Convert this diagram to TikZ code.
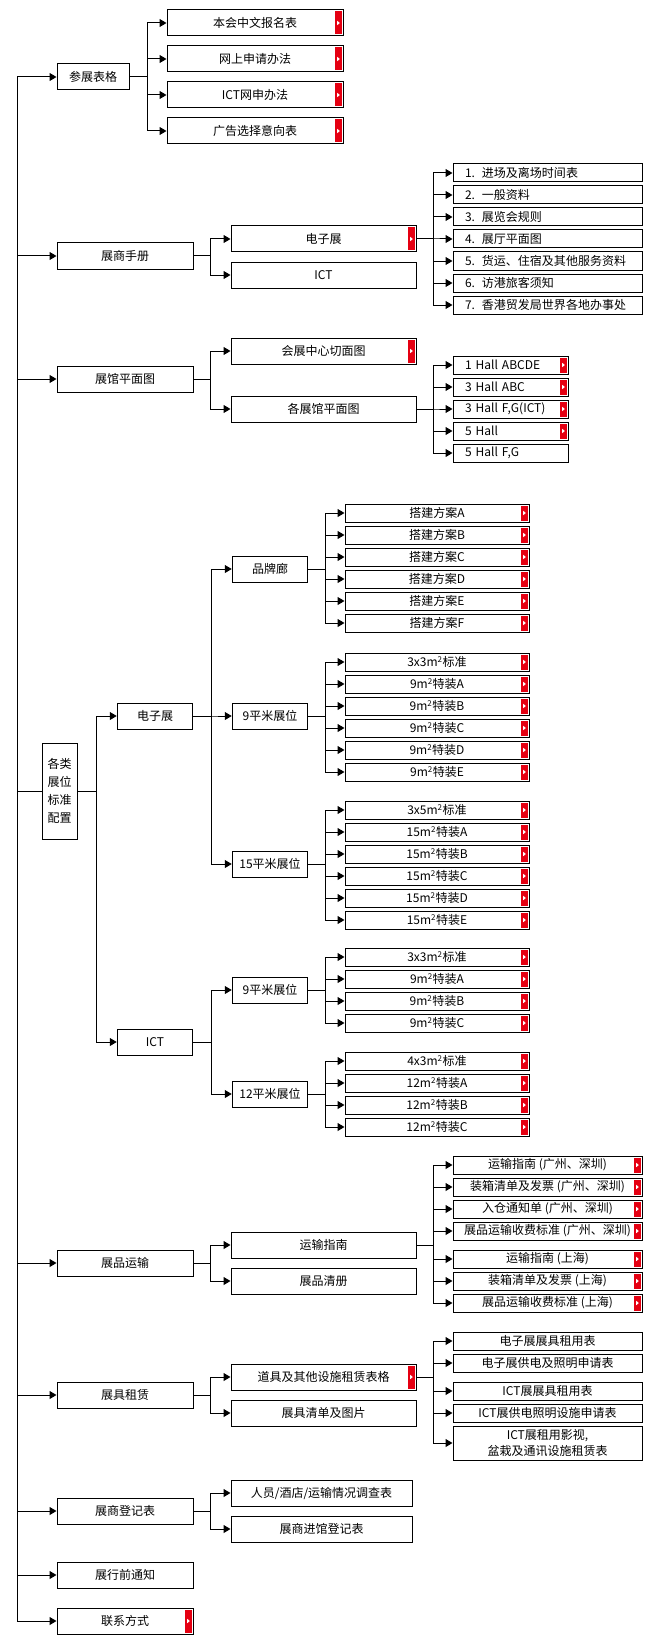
\documentclass[tikz,border=0pt]{standalone}
\usepackage{fontspec}
\newfontfamily\cjk{Noto Sans CJK SC}
\usetikzlibrary{arrows.meta}
\definecolor{tabred}{HTML}{E50012}
\newcommand\msq{m\textsuperscript{2}}

\begin{document}
\begin{tikzpicture}[x=1pt,y=-1pt,>={Triangle[length=7pt,width=8pt]},
  every node/.style={font=\cjk\fontsize{12}{14}\selectfont},
  box/.style={draw,line width=1pt,inner sep=0pt,minimum width=#1,minimum height=26pt},
  box/.default=136pt,
  item/.style={draw,line width=1pt,inner sep=0pt,minimum width=#1,minimum height=18pt},
  item/.default=184pt,
  lefttext/.style={inner xsep=12pt,text width=#1,align=left},
  link/.style={line width=1pt},
  notab/.style={},
  tab/.style={path picture={
    \fill[tabred] ([xshift=-8pt,yshift=-1.5pt]path picture bounding box.north east)
      rectangle ([xshift=-1pt,yshift=1.5pt]path picture bounding box.south east);
    \fill[white] ([xshift=-5.8pt,yshift=2.2pt]path picture bounding box.east)
      -- ([xshift=-3.2pt]path picture bounding box.east)
      -- ([xshift=-5.8pt,yshift=-2.2pt]path picture bounding box.east) -- cycle;}}]
\useasboundingbox (0,0) rectangle (670,1645);
\coordinate (trunk) at (17,0);

% first level
\node[box=72pt] (form) at (93,77) {参展表格};
\node[box] (manual) at (125,256) {展商手册};
\node[box] (plan) at (125,379) {展馆平面图};
\node[box=35pt,minimum height=96pt,align=center,font=\cjk\fontsize{12}{18}\selectfont] (booth) at (59.5,791) {各类\\展位\\标准\\配置};
\node[box] (ship) at (125,1263) {展品运输};
\node[box] (rent) at (125,1395) {展具租赁};
\node[box] (reg) at (125,1511) {展商登记表};
\node[box] (notice) at (125,1575) {展行前通知};
\node[box,tab] (contact) at (125,1621) {联系方式};

\draw[link] (trunk |- form.west) -- (trunk |- contact.west);
\foreach \n in {form,manual,plan,ship,rent,reg,notice,contact}
  \draw[link,->] (trunk |- \n.west) -- (\n.west);
\draw[link] (trunk |- booth.west) -- (booth.west);

% forms
\foreach \txt [count=\i] in {本会中文报名表,网上申请办法,ICT网申办法,广告选择意向表}{
  \node[box=176pt,tab] (f\i) at (255,{23+36*(\i-1)}) {\txt};
  \draw[link,->] (form.east) -- ++(18,0) |- (f\i.west);
}

% manual
\node[box=185pt,tab] (mele) at (323.5,239) {电子展};
\node[box=185pt] (mict) at (323.5,275) {ICT};
\foreach \c in {mele,mict}
  \draw[link,->] (manual.east) -- ++(17,0) |- (\c.west);
\foreach \txt [count=\i] in {进场及离场时间表,一般资料,展览会规则,展厅平面图,货运、住宿及其他服务资料,访港旅客须知,香港贸发局世界各地办事处}{
  \node[item=189pt,lefttext=165pt] (m\i) at (547.5,{173+22*(\i-1)}) {\i.\hspace{7pt}\txt};
  \draw[link,->] (mele.east) -- ++(17,0) |- (m\i.west);
}

% hall plans
\node[box=185pt,tab] (pcut) at (323.5,351) {会展中心切面图};
\node[box=185pt] (phall) at (323.5,409) {各展馆平面图};
\foreach \c in {pcut,phall}
  \draw[link,->] (plan.east) -- ++(17,0) |- (\c.west);
\foreach \txt/\sty [count=\i] in {1 Hall ABCDE/tab,3 Hall ABC/tab,{3 Hall F,G(ICT)}/tab,5 Hall/tab,{5 Hall F,G}/notab}{
  \node[item=115pt,lefttext=91pt,\sty] (h\i) at (510.5,{365+22*(\i-1)}) {\txt};
  \draw[link,->] (phall.east) -- ++(17,0) |- (h\i.west);
}

% booths
\node[box=75.5pt] (bele) at (155,716) {电子展};
\node[box=75.5pt] (bict) at (155,1042) {ICT};
\foreach \c in {bele,bict}
  \draw[link,->] (booth.east) -- ++(19,0) |- (\c.west);
\node[box=75.5pt] (brand) at (270,569) {品牌廊};
\node[box=75.5pt] (e9) at (270,716) {9平米展位};
\node[box=75.5pt] (e15) at (270,864) {15平米展位};
\node[box=75.5pt] (i9) at (270,990) {9平米展位};
\node[box=75.5pt] (i12) at (270,1094) {12平米展位};
\foreach \c in {brand,e9,e15}
  \draw[link,->] (bele.east) -- ++(18,0) |- (\c.west);
\foreach \c in {i9,i12}
  \draw[link,->] (bict.east) -- ++(18,0) |- (\c.west);

\foreach \txt [count=\i] in {A,B,C,D,E,F}{
  \node[item,tab] (pa\i) at (437,{513+22*(\i-1)}) {搭建方案\txt};
  \draw[link,->] (brand.east) -- ++(17,0) |- (pa\i.west);
}
\foreach \txt [count=\i] in {3x3\msq{}标准,9\msq{}特装A,9\msq{}特装B,9\msq{}特装C,9\msq{}特装D,9\msq{}特装E}{
  \node[item,tab] (ea\i) at (437,{662+22*(\i-1)}) {\txt};
  \draw[link,->] (e9.east) -- ++(17,0) |- (ea\i.west);
}
\foreach \txt [count=\i] in {3x5\msq{}标准,15\msq{}特装A,15\msq{}特装B,15\msq{}特装C,15\msq{}特装D,15\msq{}特装E}{
  \node[item,tab] (eb\i) at (437,{810+22*(\i-1)}) {\txt};
  \draw[link,->] (e15.east) -- ++(17,0) |- (eb\i.west);
}
\foreach \txt [count=\i] in {3x3\msq{}标准,9\msq{}特装A,9\msq{}特装B,9\msq{}特装C}{
  \node[item,tab] (ia\i) at (437,{957+22*(\i-1)}) {\txt};
  \draw[link,->] (i9.east) -- ++(17,0) |- (ia\i.west);
}
\foreach \txt [count=\i] in {4x3\msq{}标准,12\msq{}特装A,12\msq{}特装B,12\msq{}特装C}{
  \node[item,tab] (ib\i) at (437,{1061+22*(\i-1)}) {\txt};
  \draw[link,->] (i12.east) -- ++(17,0) |- (ib\i.west);
}

% shipping
\node[box=185pt] (sguide) at (323.5,1245) {运输指南};
\node[box=185pt] (slist) at (323.5,1281) {展品清册};
\foreach \c in {sguide,slist}
  \draw[link,->] (ship.east) -- ++(17,0) |- (\c.west);
\foreach \txt/\y [count=\i] in {运输指南 (广州、深圳)/1165,装箱清单及发票 (广州、深圳)/1187,入仓通知单 (广州、深圳)/1209,展品运输收费标准 (广州、深圳)/1231,运输指南 (上海)/1259,装箱清单及发票 (上海)/1281,展品运输收费标准 (上海)/1303}{
  \node[item=189pt,tab] (s\i) at (547.5,\y) {\txt};
  \draw[link,->] (sguide.east) -- ++(17,0) |- (s\i.west);
}

% rental
\node[box=185pt,tab] (rform) at (323.5,1377) {道具及其他设施租赁表格};
\node[box=185pt] (rlist) at (323.5,1413) {展具清单及图片};
\foreach \c in {rform,rlist}
  \draw[link,->] (rent.east) -- ++(17,0) |- (\c.west);
\foreach \txt/\y [count=\i] in {电子展展具租用表/1341,电子展供电及照明申请表/1363,ICT展展具租用表/1391,ICT展供电照明设施申请表/1413}{
  \node[item=189pt] (r\i) at (547.5,\y) {\txt};
  \draw[link,->] (rform.east) -- ++(17,0) |- (r\i.west);
}
\node[item=189pt,minimum height=34pt,align=center,font=\cjk\fontsize{12}{16}\selectfont] (r5) at (547.5,1443) {ICT展租用影视,\\盆栽及通讯设施租赁表};
\draw[link,->] (rform.east) -- ++(17,0) |- (r5.west);

% registration
\node[box=181pt] (rsurvey) at (321.5,1493) {人员/酒店/运输情况调查表};
\node[box=181pt] (rentry) at (321.5,1529) {展商进馆登记表};
\foreach \c in {rsurvey,rentry}
  \draw[link,->] (reg.east) -- ++(17,0) |- (\c.west);
\end{tikzpicture}
\end{document}
